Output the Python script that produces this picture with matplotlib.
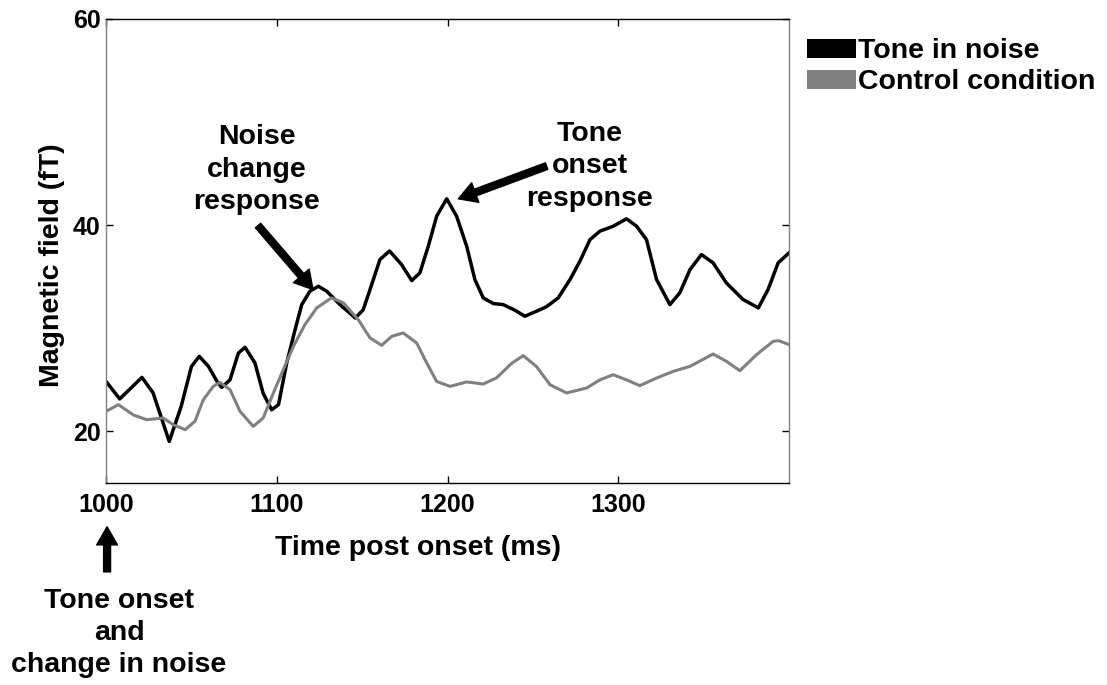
import matplotlib
matplotlib.use("Agg")
import matplotlib.pyplot as plt
from matplotlib.patches import Patch

plt.rcParams['font.family'] = ['Liberation Sans', 'DejaVu Sans']
plt.rcParams['font.weight'] = 'bold'

# averaged field traces, read at irregular sample times (ms)
t_tone = [1000, 1008, 1021, 1027.5, 1037, 1044, 1050, 1054.6, 1060, 1065, 1067.7,
          1072.6, 1077.5, 1081.4, 1087.2, 1092, 1097, 1101, 1105.8, 1110.7, 1114.6,
          1119.4, 1124.3, 1129.2, 1137, 1146, 1150.6, 1154.6, 1160.4, 1166, 1173,
          1179, 1183.8, 1188.7, 1193.6, 1199.5, 1205.3, 1211.2, 1216, 1220.9, 1226.8,
          1232.6, 1239.5, 1245.3, 1254, 1258, 1264.8, 1271.7, 1277.5, 1283.4, 1289.2,
          1297, 1304.8, 1310.7, 1316.5, 1322.4, 1330.2, 1336, 1342, 1348.7, 1355.5,
          1363.3, 1373, 1382, 1387.7, 1393.6, 1400]
v_tone = [24.85, 23.15, 25.24, 23.76, 19.03, 22.43, 26.3, 27.28, 26.3, 24.85, 24.27,
          25.0, 27.6, 28.16, 26.64, 23.7, 22.1, 22.6, 26.64, 29.87, 32.3,
          33.6, 34.08, 33.6, 32.3, 31.0, 31.8, 33.76, 36.67, 37.5, 36.2,
          34.63, 35.38, 37.96, 40.87, 42.56, 40.87, 37.96, 34.73, 32.95, 32.4,
          32.3, 31.75, 31.17, 31.8, 32.1, 32.95, 34.73, 36.5, 38.6, 39.42,
          39.9, 40.62, 39.9, 38.6, 34.73, 32.3, 33.44, 35.7, 37.15, 36.35,
          34.4, 32.8, 31.98, 33.76, 36.35, 37.32]

t_ctrl = [1000, 1007.2, 1016, 1023.8, 1033.5, 1039.4, 1046.3, 1052, 1057, 1062.8,
          1066.7, 1072.6, 1078.5, 1086.2, 1092, 1098, 1103.8, 1109.7, 1116.5, 1123.4,
          1132, 1139, 1147.7, 1154.6, 1161.4, 1167.3, 1174, 1181.9, 1187.8, 1193.6,
          1201.4, 1211.2, 1220.9, 1228.7, 1237.5, 1244.3, 1252, 1260, 1269.7, 1281.4,
          1289.2, 1297, 1304.8, 1312.6, 1322.4, 1332.2, 1342, 1355.5, 1363.3, 1371.2,
          1381, 1390.7, 1394, 1400]
v_ctrl = [21.94, 22.6, 21.6, 21.14, 21.3, 20.65, 20.17, 20.97, 23.08, 24.37,
          24.76, 24.05, 21.94, 20.49, 21.3, 23.73, 25.99, 28.25, 30.36, 31.98,
          32.95, 32.47, 30.84, 29.07, 28.35, 29.22, 29.55, 28.58, 26.64, 24.85,
          24.37, 24.8, 24.6, 25.2, 26.6, 27.35, 26.31, 24.53, 23.73, 24.21,
          25.0, 25.5, 25.0, 24.44, 25.18, 25.83, 26.31, 27.51, 26.8, 25.89,
          27.45, 28.74, 28.8, 28.42]

series_names = ['Tone in noise', 'Control condition']
series_colors = ['black', '#808080']

fig = plt.figure(figsize=(11.07, 6.85), dpi=100)
ax = fig.add_axes([0.0958, 0.2949, 0.617, 0.6774])

ax.plot(t_tone, v_tone, color=series_colors[0], lw=2.5)
ax.plot(t_ctrl, v_ctrl, color=series_colors[1], lw=2.2)

ax.set_xlim(1000, 1400)
ax.set_ylim(15, 60)
ax.set_xticks([1000, 1100, 1200, 1300])
ax.set_yticks([20, 40, 60])
ax.tick_params(direction='in', length=5, width=1, top=True, right=True,
               labelsize=18)
ax.tick_params(axis='x', pad=7)
ax.tick_params(axis='y', pad=4)
for side in ['left', 'right']:
    ax.spines[side].set_color('#808080')
for s in ax.spines.values():
    s.set_linewidth(1)

ax.set_xlabel('Time post onset (ms)', fontsize=20.5, fontweight='bold', va='center')
ax.xaxis.set_label_coords(0.457, -0.14)
ax.set_ylabel('Magnetic field (fT)', fontsize=20.5, fontweight='bold', va='center')
ax.yaxis.set_label_coords(-0.079, 0.47)

# callouts
arrow = dict(facecolor='black', edgecolor='black', width=5, headwidth=15, headlength=13)
ax.annotate('', xy=(1121.2, 33.76), xytext=(1089, 39.97), arrowprops=arrow)
ax.text(1088.4, 45.39, 'Noise\nchange\nresponse', fontsize=20.5, fontweight='bold',
        ha='center', va='center', linespacing=1.32)
ax.annotate('', xy=(1206.3, 42.56), xytext=(1258, 45.73), arrowprops=arrow)
ax.text(1283.4, 45.7, 'Tone\nonset\nresponse', fontsize=20.5, fontweight='bold',
        ha='center', va='center', linespacing=1.32)
ax.annotate('', xy=(1000.6, 10.75), xytext=(1000.6, 6.38), arrowprops=arrow,
            annotation_clip=False)
ax.text(1007.6, 0.46, 'Tone onset\nand\nchange in noise', fontsize=20.5,
        fontweight='bold', ha='center', va='center', linespacing=1.32, clip_on=False)

handles = [Patch(facecolor=c, edgecolor='none') for c in series_colors]
ax.legend(handles, series_names, loc='upper left', bbox_to_anchor=(0.7287, 0.944),
          bbox_transform=fig.transFigure, frameon=False, borderpad=0, borderaxespad=0,
          handlelength=1.75, handleheight=0.67, handletextpad=0.05, labelspacing=0.18,
          prop={'size': 20.5, 'weight': 'bold'})

fig.savefig('out.png', dpi=100)
